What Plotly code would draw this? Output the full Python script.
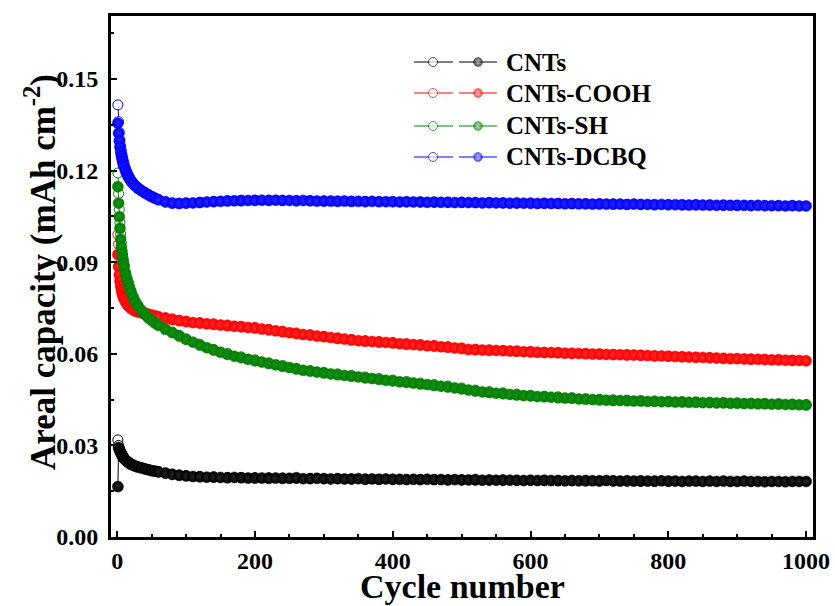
import plotly.graph_objects as go

# ---------------- data ----------------
EARLY = [1, 2, 3, 4, 5, 6, 7, 8, 9, 10, 12, 14, 16, 18, 20, 23, 26, 30, 35, 40,
         45, 50, 55, 60, 70, 80, 90, 100]
CYC_D = EARLY + list(range(110, 1001, 10))   # discharge (filled) sample cycles
CYC_C = EARLY + list(range(120, 1001, 20))   # charge (open) sample cycles

NAMES = ["CNTs", "CNTs-COOH", "CNTs-SH", "CNTs-DCBQ"]
COLORS = ["#000000", "#FF0000", "#008000", "#0000FF"]
HILITE = ["#262626", "#ff2c2c", "#1c8c1c", "#2a2aff"]
LEG_HILITE = ["#bbbbbb", "#ffc0c0", "#b0dab0", "#c0c0ff"]

CNT_D = [0.0165, 0.0293, 0.0287, 0.0281, 0.0276, 0.0272, 0.0268, 0.0264, 0.0260, 0.0257,
         0.0252, 0.0248, 0.0244, 0.0241, 0.0238, 0.0235, 0.0232, 0.0229, 0.0226, 0.0223,
         0.0220, 0.0217, 0.0215, 0.0213, 0.0209, 0.0205, 0.0202, 0.0200,
         0.0198, 0.0197, 0.0196, 0.0196, 0.0195, 0.0194, 0.0195, 0.0194, 0.0193, 0.0193,
         0.0193, 0.0192, 0.0193, 0.0192, 0.0192, 0.0194, 0.0191, 0.0191, 0.0192, 0.0191,
         0.0190, 0.0191, 0.0190, 0.0190, 0.0191, 0.0189, 0.0190, 0.0189, 0.0190, 0.0189,
         0.0189, 0.0188, 0.0189, 0.0188, 0.0189, 0.0188, 0.0188, 0.0187, 0.0188, 0.0187,
         0.0187, 0.0188, 0.0186, 0.0187, 0.0186, 0.0187, 0.0186, 0.0186, 0.0185, 0.0186,
         0.0185, 0.0186, 0.0185, 0.0185, 0.0184, 0.0185, 0.0184, 0.0185, 0.0184, 0.0184,
         0.0185, 0.0184, 0.0183, 0.0184, 0.0183, 0.0184, 0.0183, 0.0183, 0.0184, 0.0183,
         0.0183, 0.0182, 0.0183, 0.0183, 0.0182, 0.0183, 0.0182, 0.0183, 0.0182, 0.0182,
         0.0183, 0.0182, 0.0182, 0.0181, 0.0182, 0.0182, 0.0181, 0.0182, 0.0182, 0.0182]
CNT_C = [0.0318, 0.0300, 0.0291, 0.0284, 0.0279, 0.0274, 0.0270, 0.0266, 0.0262, 0.0259,
         0.0254, 0.0250, 0.0246, 0.0243, 0.0240, 0.0236, 0.0233, 0.0230, 0.0227, 0.0224,
         0.0221, 0.0218, 0.0216, 0.0214, 0.0210, 0.0206, 0.0203, 0.0201,
         0.0198, 0.0197, 0.0195, 0.0195, 0.0194, 0.0194, 0.0193, 0.0192, 0.0192, 0.0191,
         0.0191, 0.0190, 0.0190, 0.0189, 0.0189, 0.0188, 0.0188, 0.0188, 0.0187, 0.0187,
         0.0186, 0.0186, 0.0185, 0.0185, 0.0185, 0.0184, 0.0184, 0.0184, 0.0183, 0.0183,
         0.0183, 0.0183, 0.0182, 0.0182, 0.0182]

COOH_D = [0.0925, 0.0885, 0.0858, 0.0838, 0.0822, 0.0810, 0.0800, 0.0792, 0.0785, 0.0779,
          0.0770, 0.0763, 0.0757, 0.0753, 0.0749, 0.0744, 0.0740, 0.0737, 0.0734, 0.0731,
          0.0728, 0.0725, 0.0722, 0.0720, 0.0716, 0.0712, 0.0708, 0.0705,
          0.0702, 0.0700, 0.0698, 0.0696, 0.0694, 0.0692, 0.0690, 0.0688, 0.0686, 0.0684,
          0.0681, 0.0678, 0.0675, 0.0672, 0.0669, 0.0666, 0.0663, 0.0661, 0.0658, 0.0656,
          0.0653, 0.0650, 0.0648, 0.0645, 0.0643, 0.0641, 0.0640, 0.0638, 0.0637, 0.0635,
          0.0633, 0.0631, 0.0630, 0.0628, 0.0626, 0.0625, 0.0623, 0.0621, 0.0619, 0.0617,
          0.0614, 0.0613, 0.0612, 0.0611, 0.0611, 0.0610, 0.0609, 0.0608, 0.0607, 0.0606,
          0.0605, 0.0604, 0.0604, 0.0603, 0.0602, 0.0601, 0.0601, 0.0600, 0.0599, 0.0599,
          0.0598, 0.0597, 0.0597, 0.0596, 0.0596, 0.0595, 0.0594, 0.0593, 0.0593, 0.0592,
          0.0591, 0.0590, 0.0589, 0.0588, 0.0588, 0.0587, 0.0586, 0.0585, 0.0584, 0.0584,
          0.0583, 0.0582, 0.0582, 0.0581, 0.0580, 0.0580, 0.0579, 0.0578, 0.0578, 0.0577]
COOH_C = [0.0990, 0.0958, 0.0925, 0.0895, 0.0870, 0.0850, 0.0835, 0.0822, 0.0810, 0.0800,
          0.0787, 0.0777, 0.0769, 0.0763, 0.0758, 0.0751, 0.0746, 0.0741, 0.0737, 0.0734,
          0.0731, 0.0728, 0.0725, 0.0722, 0.0718, 0.0714, 0.0710, 0.0707,
          0.0702, 0.0698, 0.0694, 0.0690, 0.0686, 0.0680, 0.0674, 0.0668, 0.0662, 0.0657,
          0.0652, 0.0647, 0.0643, 0.0640, 0.0637, 0.0633, 0.0630, 0.0627, 0.0623, 0.0619,
          0.0615, 0.0613, 0.0611, 0.0609, 0.0607, 0.0605, 0.0604, 0.0602, 0.0601, 0.0599,
          0.0598, 0.0597, 0.0595, 0.0593, 0.0592, 0.0590, 0.0589, 0.0587, 0.0585, 0.0584,
          0.0583, 0.0581, 0.0580, 0.0579]

SH_D = [0.1147, 0.1093, 0.1049, 0.1011, 0.0975, 0.0950, 0.0930, 0.0912, 0.0897, 0.0885,
        0.0862, 0.0845, 0.0830, 0.0815, 0.0802, 0.0785, 0.0771, 0.0756, 0.0741, 0.0729,
        0.0718, 0.0709, 0.0700, 0.0693, 0.0680, 0.0669, 0.0658, 0.0647,
        0.0638, 0.0628, 0.0620, 0.0612, 0.0605, 0.0598, 0.0592, 0.0587, 0.0582, 0.0577,
        0.0573, 0.0568, 0.0564, 0.0559, 0.0555, 0.0550, 0.0546, 0.0543, 0.0540, 0.0537,
        0.0534, 0.0531, 0.0529, 0.0526, 0.0524, 0.0521, 0.0519, 0.0516, 0.0513, 0.0511,
        0.0508, 0.0506, 0.0504, 0.0501, 0.0499, 0.0496, 0.0494, 0.0491, 0.0488, 0.0485,
        0.0481, 0.0478, 0.0475, 0.0473, 0.0471, 0.0469, 0.0467, 0.0465, 0.0463, 0.0462,
        0.0460, 0.0459, 0.0458, 0.0456, 0.0455, 0.0454, 0.0452, 0.0451, 0.0450, 0.0449,
        0.0448, 0.0447, 0.0447, 0.0446, 0.0445, 0.0445, 0.0444, 0.0444, 0.0443, 0.0443,
        0.0442, 0.0442, 0.0441, 0.0441, 0.0440, 0.0440, 0.0439, 0.0439, 0.0438, 0.0438,
        0.0437, 0.0437, 0.0436, 0.0436, 0.0435, 0.0435, 0.0434, 0.0434, 0.0433, 0.0432]
SH_C = [0.1192, 0.1125, 0.1072, 0.1030, 0.0992, 0.0963, 0.0940, 0.0921, 0.0905, 0.0891,
        0.0868, 0.0850, 0.0834, 0.0819, 0.0806, 0.0788, 0.0774, 0.0759, 0.0744, 0.0731,
        0.0720, 0.0711, 0.0702, 0.0695, 0.0682, 0.0671, 0.0660, 0.0649,
        0.0631, 0.0614, 0.0601, 0.0590, 0.0580, 0.0570, 0.0561, 0.0552, 0.0545, 0.0539,
        0.0534, 0.0529, 0.0524, 0.0519, 0.0514, 0.0509, 0.0504, 0.0499, 0.0494, 0.0488,
        0.0481, 0.0476, 0.0472, 0.0468, 0.0464, 0.0461, 0.0459, 0.0456, 0.0453, 0.0451,
        0.0449, 0.0448, 0.0446, 0.0445, 0.0444, 0.0443, 0.0442, 0.0441, 0.0440, 0.0439,
        0.0438, 0.0437, 0.0436, 0.0435, 0.0434, 0.0433]

DCBQ_D = [0.1355, 0.1322, 0.1297, 0.1277, 0.1261, 0.1248, 0.1237, 0.1228, 0.1219, 0.1212,
          0.1199, 0.1189, 0.1180, 0.1172, 0.1165, 0.1157, 0.1150, 0.1142, 0.1134, 0.1127,
          0.1120, 0.1114, 0.1109, 0.1104, 0.1097, 0.1093, 0.1092, 0.1093,
          0.1094, 0.1095, 0.1097, 0.1098, 0.1099, 0.1100, 0.1101, 0.1101, 0.1102, 0.1102,
          0.1103, 0.1102, 0.1103, 0.1102, 0.1102, 0.1101, 0.1102, 0.1101, 0.1100, 0.1100,
          0.1100, 0.1099, 0.1100, 0.1099, 0.1099, 0.1098, 0.1099, 0.1098, 0.1098, 0.1098,
          0.1097, 0.1098, 0.1097, 0.1097, 0.1096, 0.1097, 0.1096, 0.1096, 0.1095, 0.1096,
          0.1095, 0.1095, 0.1094, 0.1095, 0.1094, 0.1094, 0.1093, 0.1094, 0.1093, 0.1093,
          0.1092, 0.1093, 0.1092, 0.1092, 0.1091, 0.1092, 0.1091, 0.1091, 0.1090, 0.1091,
          0.1090, 0.1090, 0.1090, 0.1089, 0.1090, 0.1089, 0.1089, 0.1088, 0.1089, 0.1088,
          0.1088, 0.1088, 0.1087, 0.1088, 0.1087, 0.1087, 0.1086, 0.1087, 0.1086, 0.1086,
          0.1086, 0.1085, 0.1086, 0.1085, 0.1085, 0.1085, 0.1084, 0.1085, 0.1084, 0.1084]
DCBQ_C = [0.1415, 0.1360, 0.1325, 0.1300, 0.1280, 0.1265, 0.1252, 0.1241, 0.1231, 0.1223,
          0.1208, 0.1196, 0.1186, 0.1177, 0.1169, 0.1160, 0.1153, 0.1145, 0.1136, 0.1129,
          0.1122, 0.1116, 0.1110, 0.1105, 0.1098, 0.1094, 0.1093, 0.1094,
          0.1096, 0.1099, 0.1101, 0.1103, 0.1103, 0.1103, 0.1102, 0.1101, 0.1101, 0.1100,
          0.1100, 0.1099, 0.1099, 0.1098, 0.1098, 0.1097, 0.1097, 0.1096, 0.1096, 0.1095,
          0.1095, 0.1094, 0.1094, 0.1093, 0.1093, 0.1092, 0.1092, 0.1091, 0.1091, 0.1090,
          0.1090, 0.1089, 0.1089, 0.1088, 0.1088, 0.1087, 0.1087, 0.1087, 0.1086, 0.1086,
          0.1086, 0.1085, 0.1085, 0.1085]

CHARGE = [CNT_C, COOH_C, SH_C, DCBQ_C]
DISCHARGE = [CNT_D, COOH_D, SH_D, DCBQ_D]

X_TICKS = [0, 200, 400, 600, 800, 1000]
Y_TICKS = [0.00, 0.03, 0.06, 0.09, 0.12, 0.15]
Y_LABELS = ["0.00", "0.03", "0.06", "0.09", "0.12", "0.15"]
X_TITLE = "Cycle number"
Y_TITLE = "Areal capacity (mAh cm<sup>-2</sup>)"

# ---------------- styling / layout ----------------
W, H = 835, 606
ML, MR, MT, MB = 111, 22, 16, 69
FONT = "Liberation Serif, Times New Roman, serif"

fig = go.Figure()

for name, col, hl, cc, dd in zip(NAMES, COLORS, HILITE, CHARGE, DISCHARGE):
    fig.add_trace(go.Scatter(
        x=CYC_C, y=cc, mode="lines+markers", name=name + " charge",
        line=dict(color=col, width=1),
        marker=dict(symbol="circle", size=10, color="white",
                    line=dict(color=col, width=1)),
        showlegend=False, cliponaxis=False))
    fig.add_trace(go.Scatter(
        x=CYC_D, y=dd, mode="lines+markers", name=name + " discharge",
        line=dict(color=col, width=1),
        marker=dict(symbol="circle", size=11, color=col,
                    gradient=dict(type="radial", color=hl),
                    line=dict(color=col, width=0.5)),
        showlegend=False, cliponaxis=False))

# ---------------- custom legend (overlay axes in plot-fraction units) ----------------
pw = W - ML - MR
ph = H - MT - MB
def px_x(x):
    return (x - ML) / pw
def px_y(y):
    return (H - MB - y) / ph

ROW_Y = [62, 93, 126, 157]
for name, col, hl, ry in zip(NAMES, COLORS, LEG_HILITE, ROW_Y):
    yy = px_y(ry)
    fig.add_trace(go.Scatter(
        x=[px_x(414), px_x(433), px_x(453)], y=[yy, yy, yy], xaxis="x2", yaxis="y2",
        mode="lines+markers", line=dict(color=col, width=1),
        marker=dict(size=[0, 9, 0], color="white", line=dict(color=col, width=1)),
        showlegend=False, hoverinfo="skip", cliponaxis=False))
    fig.add_trace(go.Scatter(
        x=[px_x(459), px_x(478), px_x(497)], y=[yy, yy, yy], xaxis="x2", yaxis="y2",
        mode="lines+markers", line=dict(color=col, width=1),
        marker=dict(size=[0, 9, 0], color=col, gradient=dict(type="radial", color=hl),
                    line=dict(color=col, width=0.5)),
        showlegend=False, hoverinfo="skip", cliponaxis=False))
    fig.add_annotation(x=px_x(504), y=yy, xref="paper", yref="paper", text=name,
                       showarrow=False, xanchor="left", yanchor="middle",
                       font=dict(family=FONT, size=25, color="black", weight="bold"))

# axis titles as annotations for exact placement (paper = plot-area fractions)
fig.add_annotation(x=0.5, y=px_y(586), xref="paper", yref="paper",
                   yanchor="middle", xanchor="center", showarrow=False,
                   text=X_TITLE,
                   font=dict(family=FONT, size=34, color="black", weight="bold"))
fig.add_annotation(x=px_x(40), y=px_y(272), xref="paper", yref="paper",
                   textangle=-90, xanchor="center", yanchor="middle", showarrow=False,
                   text=Y_TITLE,
                   font=dict(family=FONT, size=35, color="black", weight="bold"))

axis_common = dict(
    showline=True, linecolor="black", linewidth=3, mirror=True,
    ticks="inside", tickwidth=2, ticklen=6, tickcolor="black",
    showgrid=False, zeroline=False, automargin=False,
    tickfont=dict(family=FONT, size=24, color="black", weight="bold"),
)

fig.update_layout(
    width=W, height=H,
    margin=dict(l=ML, r=MR, t=MT, b=MB),
    paper_bgcolor="white", plot_bgcolor="white",
    xaxis=dict(range=[-9, 1010], tickvals=X_TICKS,
               minor=dict(dtick=50, tick0=0, ticks="inside", ticklen=3, tickwidth=2,
                          tickcolor="black"),
               **axis_common),
    yaxis=dict(range=[0, 0.1706], tickvals=Y_TICKS, ticktext=Y_LABELS, ticklabelstandoff=5,
               minor=dict(dtick=0.015, tick0=0, ticks="inside", ticklen=3, tickwidth=2,
                          tickcolor="black"),
               **axis_common),
    xaxis2=dict(overlaying="x", range=[0, 1], visible=False, anchor="y2"),
    yaxis2=dict(overlaying="y", range=[0, 1], visible=False, anchor="x2"),
    showlegend=False,
)

fig.write_html("out.html")
